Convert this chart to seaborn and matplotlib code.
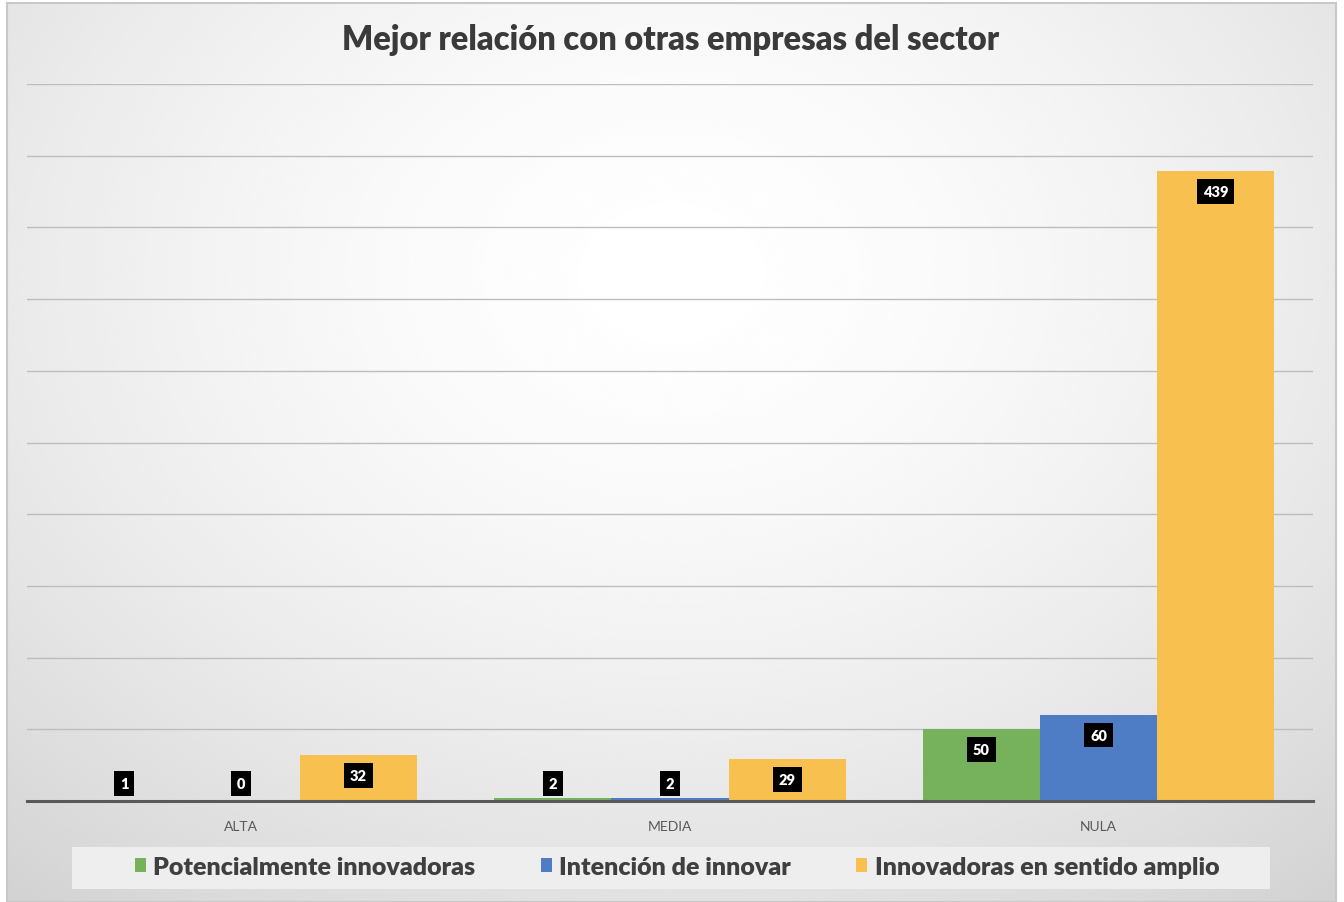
import numpy as np
import pandas as pd
import matplotlib
matplotlib.use("Agg")
import matplotlib.pyplot as plt
from matplotlib.patches import Rectangle, Patch
import seaborn as sns

# Data
categories = ["ALTA", "MEDIA", "NULA"]
series_names = ["Potencialmente innovadoras", "Intención de innovar", "Innovadoras en sentido amplio"]
potencialmente = [1, 2, 50]
intencion = [0, 2, 60]
innovadoras = [32, 29, 439]
title = "Mejor relación con otras empresas del sector"

colors = ["#76B25C", "#4E7DC6", "#F8C04E"]

rows = []
for name, vals in zip(series_names, [potencialmente, intencion, innovadoras]):
    for cat, v in zip(categories, vals):
        rows.append({"cat": cat, "serie": name, "valor": v})
df = pd.DataFrame(rows)

sns.set_theme(style="white")
plt.rcParams["font.family"] = ["Lato", "DejaVu Sans"]

fig = plt.figure(figsize=(13.44, 9.03), dpi=100)
fig.patch.set_facecolor("white")

# Background panel with a soft radial gradient
bg = fig.add_axes([7 / 1344, 0.0, 1329 / 1344, 1 - 4 / 903], zorder=-10)
yy, xx = np.mgrid[0:1:300j, 0:1:450j]
r = np.sqrt(((xx - 0.5) / 0.75) ** 2 + ((yy - 0.3) / 0.85) ** 2)
shade = np.clip(1.0 - 0.16 * r ** 1.6, 0.83, 1.0)
bg.imshow(shade, cmap="gray", vmin=0, vmax=1, aspect="auto", extent=[0, 1, 1, 0],
          interpolation="bicubic")
bg.set_xlim(0, 1)
bg.set_ylim(1, 0)
bg.axis("off")
fig.patches.append(Rectangle((7 / 1344, 0.0), 1329 / 1344, 1 - 4 / 903, transform=fig.transFigure,
                             fill=False, edgecolor="#c8c8c8", linewidth=1.5, zorder=-5))

ax = fig.add_axes([27 / 1344, (903 - 802) / 903, (1313 - 27) / 1344, (802 - 85) / 903])
ax.patch.set_alpha(0)

sns.barplot(data=df, x="cat", y="valor", hue="serie", hue_order=series_names,
            order=categories, palette=colors, width=0.82, saturation=1,
            linewidth=0, edgecolor="none", legend=False, ax=ax, zorder=3)

ax.set_ylim(0, 500)
ax.set_xlim(-0.5, 2.5)
ax.set_yticks(np.arange(50, 501, 50))
ax.yaxis.grid(True, color="#bdbdbd", linewidth=1.0, zorder=0)
ax.set_axisbelow(True)
ax.tick_params(axis="y", left=False, labelleft=False)
ax.tick_params(axis="x", length=0, pad=14, labelsize=10, labelcolor="#595959")
ax.set_xlabel("")
ax.set_ylabel("")
for s in ["top", "left", "right"]:
    ax.spines[s].set_visible(False)
ax.spines["bottom"].set_color("#595959")
ax.spines["bottom"].set_linewidth(2.2)
ax.spines["bottom"].set_zorder(4)

# Value labels in black boxes
for container in ax.containers:
    for bar in container:
        v = bar.get_height()
        x = bar.get_x() + bar.get_width() / 2
        y = max(v - 14, 12)
        ax.text(x, y, f"{v:.0f}", ha="center", va="center", color="white",
                fontsize=10.5, fontweight="heavy", zorder=5,
                bbox=dict(boxstyle="square,pad=0.4", facecolor="black", edgecolor="none"))

fig.text(671 / 1344, 1 - 40 / 903, title, ha="center", va="center",
         fontsize=23.5, fontweight="heavy", color="#3a3a3a")

# Legend on a light panel
fig.patches.append(Rectangle((72 / 1344, 13 / 903), (1270 - 72) / 1344, 42 / 903,
                             transform=fig.transFigure, facecolor="#eeeeee",
                             edgecolor="none", zorder=1))
handles = [Patch(facecolor=c, edgecolor="none") for c in colors]
leg = fig.legend(handles, series_names, loc="center", bbox_to_anchor=(677 / 1344, 35 / 903),
                 ncol=3, frameon=False, handlelength=0.45, handleheight=0.45,
                 handletextpad=0.3, columnspacing=2.6,
                 prop={"family": "Lato", "weight": "heavy", "size": 18})
for t in leg.get_texts():
    t.set_color("#3f3f3f")
leg.set_zorder(2)

fig.savefig("out.png", dpi=100)
